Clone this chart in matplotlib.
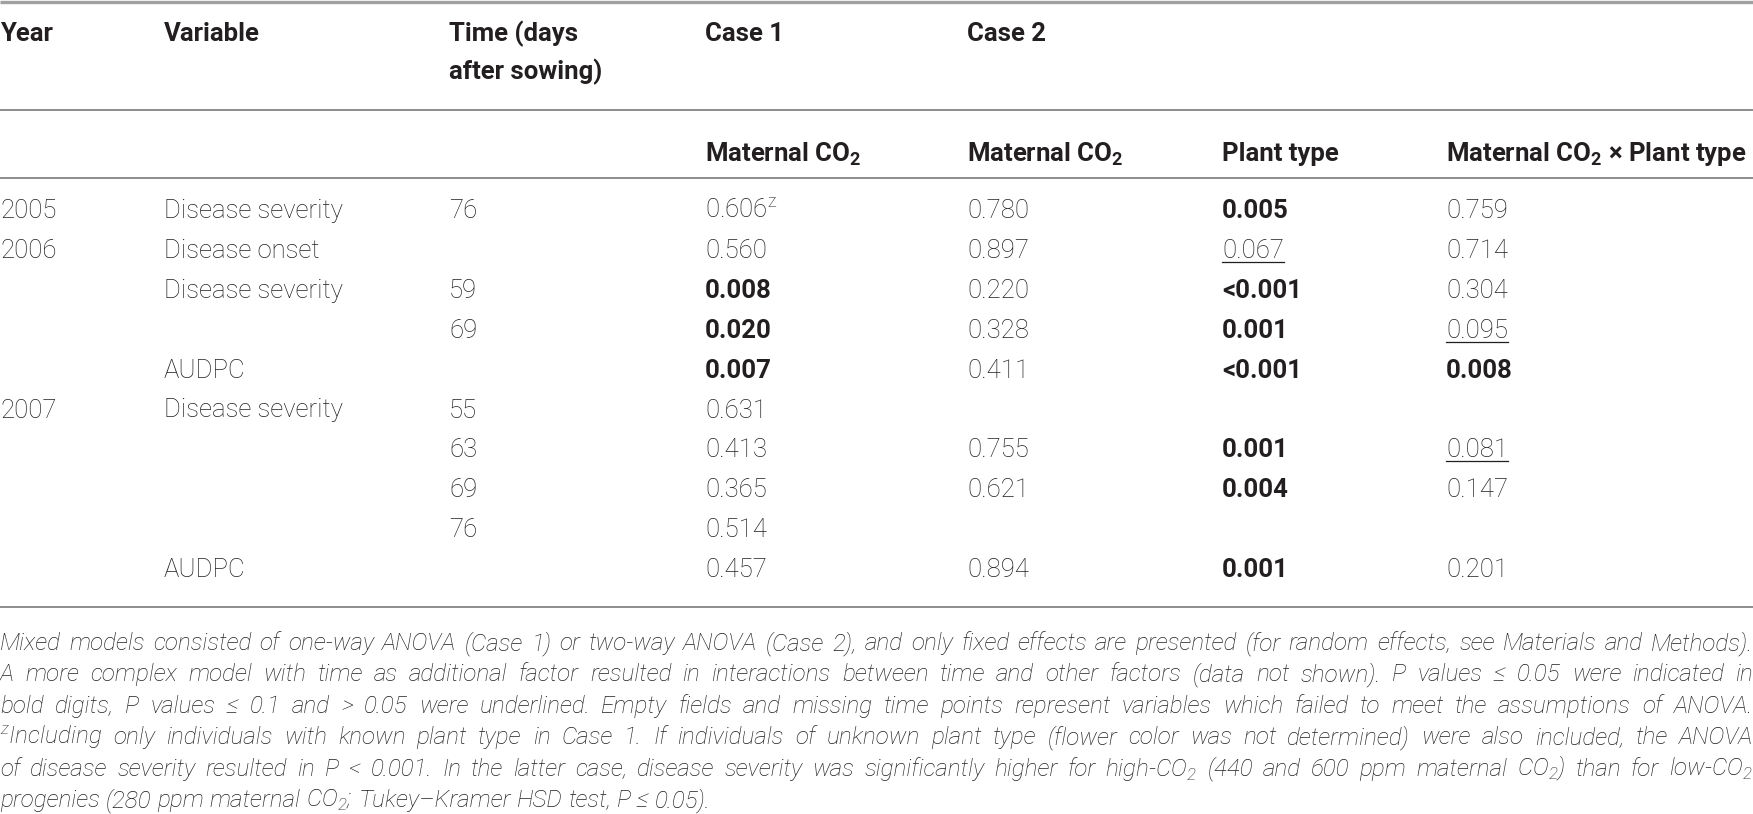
import matplotlib
matplotlib.use('Agg')
import matplotlib.pyplot as plt
from matplotlib import font_manager

# table data
years = ['2005', '2006', '', '', '', '2007', '', '', '', '']
variables = ['Disease severity', 'Disease onset', 'Disease severity', '', 'AUDPC',
             'Disease severity', '', '', '', 'AUDPC']
times = ['76', '', '59', '69', '', '55', '63', '69', '76', '']
case1_co2 = ['0.606', '0.560', '0.008', '0.020', '0.007', '0.631', '0.413', '0.365', '0.514', '0.457']
case1_notes = ['z', '', '', '', '', '', '', '', '', '']
case2_co2 = ['0.780', '0.897', '0.220', '0.328', '0.411', '', '0.755', '0.621', '', '0.894']
case2_plant = ['0.005', '0.067', '<0.001', '0.001', '<0.001', '', '0.001', '0.004', '', '0.001']
case2_inter = ['0.759', '0.714', '0.304', '0.095', '0.008', '', '0.081', '0.147', '', '0.201']

header_top = ['Year', 'Variable', 'Time (days', 'Case 1', 'Case 2']
header_mid = ['', '', 'after sowing)', '', '']
header_sub = ['Maternal CO$_\\mathregular{2}$', 'Maternal CO$_\\mathregular{2}$', 'Plant type',
              'Maternal CO$_\\mathregular{2}$ × Plant type']

footnote = [
    'Mixed models consisted of one-way ANOVA (Case 1) or two-way ANOVA (Case 2), and only fixed effects are presented (for random effects, see Materials and Methods).',
    'A more complex model with time as additional factor resulted in interactions between time and other factors (data not shown). P values ≤ 0.05 were indicated in',
    'bold digits, P values ≤ 0.1 and > 0.05 were underlined. Empty fields and missing time points represent variables which failed to meet the assumptions of ANOVA.',
    '$^\\mathregular{z}$Including only individuals with known plant type in Case 1. If individuals of unknown plant type (flower color was not determined) were also included, the ANOVA',
    'of disease severity resulted in P < 0.001. In the latter case, disease severity was significantly higher for high-CO$_\\mathregular{2}$ (440 and 600 ppm maternal CO$_\\mathregular{2}$) than for low-CO$_\\mathregular{2}$',
    'progenies (280 ppm maternal CO$_\\mathregular{2}$; Tukey–Kramer HSD test, P ≤ 0.05).',
]

W, H = 1753, 814
names = {f.name for f in font_manager.fontManager.ttflist}
fam = 'Roboto' if 'Roboto' in names else 'Liberation Sans'
FAMILY = [fam, 'DejaVu Sans']
INK = '#231f20'

fig = plt.figure(figsize=(W / 100, H / 100), dpi=100)
ax = fig.add_axes([0, 0, 1, 1])
ax.set_xlim(0, W)
ax.set_ylim(H, 0)
ax.axis('off')
renderer = fig.canvas.get_renderer()

col_x = [0, 164, 449, 705, 967, 1222, 1446]


def pval(s):
    try:
        return float(s.replace('<', ''))
    except ValueError:
        return None


def width_of(t):
    bb = t.get_window_extent(renderer)
    return bb.width


# rules
ax.plot([0, W], [1.5, 1.5], color='#a0a0a0', lw=2.4, solid_capstyle='butt')
for yy in [110, 178, 607]:
    ax.plot([0, W], [yy, yy], color='#8c8c8c', lw=1.4, solid_capstyle='butt')

# header
HS = 18.5
for x, s in zip(col_x, header_top):
    ax.text(x, 41, s, fontsize=HS, fontweight='bold', family=FAMILY, color=INK, va='baseline')
for x, s in zip(col_x, header_mid):
    if s:
        ax.text(x, 79, s, fontsize=HS, fontweight='bold', family=FAMILY, color=INK, va='baseline')
for x, s in zip(col_x[3:], header_sub):
    ax.text(x, 161, s, fontsize=HS, fontweight='bold', family=FAMILY, color=INK, va='baseline')

# body
BS = 18.5
row0, step = 218, 39.9
for i in range(len(years)):
    yb = row0 + i * step
    ax.text(col_x[0], yb, years[i], fontsize=BS, fontweight='light', family=FAMILY, color=INK, va='baseline')
    ax.text(col_x[1], yb, variables[i], fontsize=BS, fontweight='light', family=FAMILY, color=INK, va='baseline')
    ax.text(col_x[2], yb, times[i], fontsize=BS, fontweight='light', family=FAMILY, color=INK, va='baseline')
    cells = [case1_co2[i], case2_co2[i], case2_plant[i], case2_inter[i]]
    for j, s in enumerate(cells):
        if not s:
            continue
        p = pval(s)
        bold = p is not None and p <= 0.05
        under = p is not None and 0.05 < p <= 0.1
        label = s
        if j == 0 and case1_notes[i]:
            label = s + '$^\\mathregular{' + case1_notes[i] + '}$'
        t = ax.text(col_x[3 + j], yb, label, fontsize=BS,
                    fontweight='bold' if bold else 'light', family=FAMILY, color=INK, va='baseline')
        if under:
            w = width_of(t)
            ax.plot([col_x[3 + j], col_x[3 + j] + w], [yb + 4, yb + 4], color=INK, lw=0.9)

# footnote, justified to the full width
fs = 17.5
foot0, fstep = 650, 31.4


def measure_words(words, size):
    out = []
    for wd in words:
        t = ax.text(0, 0, wd, fontsize=size, fontstyle='italic', fontweight='light', family=FAMILY)
        out.append(width_of(t))
        t.remove()
    return out


t = ax.text(0, 0, 'a a', fontsize=fs, fontstyle='italic', fontweight='light', family=FAMILY)
t2 = ax.text(0, 0, 'aa', fontsize=fs, fontstyle='italic', fontweight='light', family=FAMILY)
space = width_of(t) - width_of(t2)
t.remove()
t2.remove()

split = [ln.split(' ') for ln in footnote]
need = []
for words in split[:-1]:
    ws = measure_words(words, fs)
    need.append(sum(ws) + (len(words) - 1) * space * 0.3)
scale = min(1.0, min(W / n for n in need))
fs = fs * scale

for k, words in enumerate(split):
    yb = foot0 + k * fstep
    ws = measure_words(words, fs)
    if k < len(split) - 1:
        gap = (W - sum(ws)) / (len(words) - 1)
    else:
        gap = space * scale
    x = 0
    for wd, w in zip(words, ws):
        ax.text(x, yb, wd, fontsize=fs, fontstyle='italic', fontweight='light',
                family=FAMILY, color=INK, va='baseline')
        x += w + gap

fig.savefig('out.png', dpi=100)
